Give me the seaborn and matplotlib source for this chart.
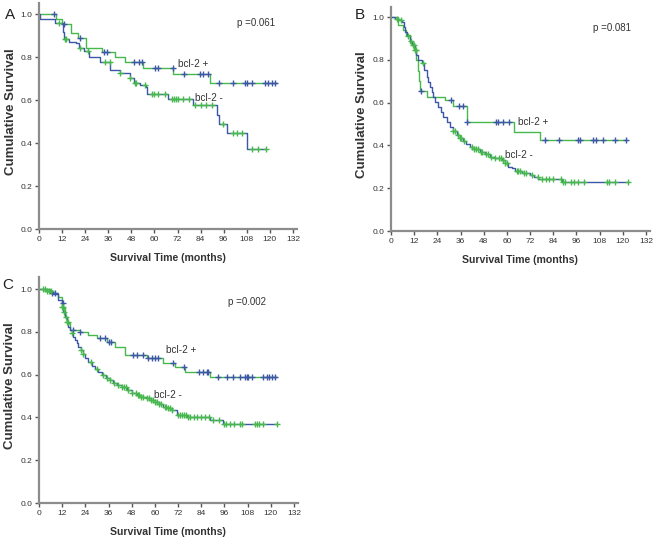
import numpy as np
import matplotlib
matplotlib.use("Agg")
import matplotlib.pyplot as plt
import seaborn as sns

# --- panel A ---
A_pos_t = [0, 9, 12, 16.6, 20.4, 24.4, 33, 39.5, 44.7, 53.9, 69.8, 88.9, 123.5]
A_pos_s = [1.0, 0.98, 0.957, 0.915, 0.89, 0.845, 0.825, 0.80, 0.778, 0.75, 0.72, 0.68, 0.68]
A_pos_cens = [7.7, 12.9, 21.3, 34, 35.2, 49.6, 51.8, 53.7, 60.3, 62, 69.6, 75.4, 83.7, 85.4, 88,
              93.7, 101, 107, 108.3, 110.5, 117.5, 119.2, 121, 122.7]
A_neg_t = [0, 0.5, 8.5, 12.3, 13.2, 15.4, 19.2, 21, 23.5, 26, 31.7, 37, 42, 47.3, 49.5, 52.5,
           55.4, 56, 67.2, 79.9, 92.3, 93.7, 97.5, 108, 118]
A_neg_s = [1.0, 0.977, 0.958, 0.916, 0.885, 0.873, 0.865, 0.845, 0.829, 0.80, 0.78, 0.74, 0.725,
           0.705, 0.68, 0.67, 0.66, 0.627, 0.608, 0.577, 0.53, 0.49, 0.448, 0.372, 0.372]
A_neg_cens = [10.6, 13.5, 13.8, 21.3, 25.6, 34.3, 36.9, 42, 47.3, 49.9, 50.5, 55, 58.6, 59.8, 62,
              65.5, 69, 70, 71, 72.5, 75, 78, 81, 84, 86.6, 89.7, 95.8, 100.7, 102.7, 105.4,
              110.5, 114, 118]

# --- panel B ---
B_pos_t = [0, 3.6, 6.2, 8, 10, 12, 13, 14, 14.5, 15, 18.5, 28, 32.3, 39.2, 63.8, 77.1, 122]
B_pos_s = [1.0, 0.963, 0.94, 0.916, 0.88, 0.85, 0.80, 0.75, 0.70, 0.655, 0.628, 0.612, 0.585,
           0.51, 0.465, 0.425, 0.425]
B_pos_cens = [15.5, 31.2, 35, 37.3, 39.2, 54.2, 55.5, 58.1, 61, 79.7, 87.1, 97, 97.8, 104.7,
              106.1, 110, 116, 121.7]
B_neg_t = [0, 2, 4, 5.5, 6.5, 7.2, 8.5, 9.8, 11, 12.4, 13.2, 14.1, 15.9, 17, 18.5, 19.3, 20.2,
           21, 21.9, 23, 24.5, 25.8, 27.1, 28.8, 30.5, 32, 34, 35.5, 37.4, 39, 40.9, 43, 46,
           48.5, 51.2, 54, 57.3, 59, 60.7, 62.5, 64.2, 68, 72, 74, 76.3, 88.4, 122.9]
B_neg_s = [1.0, 0.993, 0.986, 0.978, 0.955, 0.93, 0.91, 0.89, 0.868, 0.846, 0.822, 0.80, 0.784,
           0.752, 0.72, 0.697, 0.674, 0.651, 0.628, 0.604, 0.58, 0.557, 0.534, 0.51, 0.487,
           0.468, 0.449, 0.436, 0.422, 0.408, 0.394, 0.382, 0.37, 0.358, 0.347, 0.34, 0.332,
           0.316, 0.30, 0.293, 0.282, 0.272, 0.262, 0.252, 0.242, 0.23, 0.23]
B_neg_cens = [3, 5, 9, 10.5, 11.5, 12, 12.6, 13, 16.4, 32, 33, 34.5, 35.5, 36, 38, 42, 43, 44,
              45, 46.5, 47, 49, 50, 52, 54, 56, 57, 58, 59, 60, 65, 66, 67, 69, 70, 73, 76, 78,
              80, 82, 84, 88, 89, 90, 93, 95, 97, 100, 112, 113, 116, 122.5]

# --- panel C ---
C_pos_t = [0, 5.7, 10, 11.7, 12.6, 13.5, 14.3, 16, 21.2, 25.5, 29.9, 35, 39.3, 44.5, 55.7,
           64.4, 70.4, 75.6, 88.5, 123]
C_pos_s = [1.0, 0.98, 0.964, 0.933, 0.91, 0.87, 0.84, 0.81, 0.80, 0.785, 0.77, 0.754, 0.73,
           0.69, 0.676, 0.656, 0.637, 0.614, 0.59, 0.59]
C_pos_cens = [6.9, 8.3, 12.2, 17.8, 21.2, 31.6, 34.3, 36, 37.2, 48.8, 50.5, 54, 56.5, 58.3, 60,
              61.7, 69.5, 75, 83, 84.7, 86.8, 87.6, 92.8, 97.2, 100.3, 104.1, 106.7, 107.6,
              108.4, 110.2, 116.2, 117.9, 119.3, 120.5, 122.3]
C_neg_t = [0, 4, 7, 10, 11.7, 12.6, 13.5, 14.3, 15.2, 16, 16.9, 17.7, 18.6, 19.5, 20.4, 21.5,
           22.6, 24, 25.5, 27.2, 29, 30.7, 32.4, 34.5, 36.7, 38.5, 40.2, 42.8, 45.4, 48, 50.6,
           53, 55.7, 58, 60, 62, 64.3, 66.5, 68.7, 71.3, 76.4, 88.5, 95.1, 123]
C_neg_s = [1.0, 0.99, 0.975, 0.95, 0.917, 0.893, 0.87, 0.847, 0.824, 0.808, 0.793, 0.777, 0.762,
           0.746, 0.73, 0.713, 0.696, 0.678, 0.66, 0.642, 0.625, 0.611, 0.598, 0.586, 0.575,
           0.563, 0.551, 0.54, 0.528, 0.516, 0.505, 0.497, 0.489, 0.481, 0.473, 0.462, 0.45,
           0.442, 0.435, 0.411, 0.403, 0.388, 0.369, 0.369]
C_neg_cens = [2, 3, 4, 5, 6, 12, 12.5, 13, 14, 14.5, 15, 17, 22, 23, 27, 30, 33, 35, 37, 39, 41,
              43, 44, 45, 46, 48, 50, 51, 52, 53, 54, 56, 57, 58, 59, 60, 61, 62, 63, 65, 66, 67,
              68, 69, 72, 73, 74, 75, 76, 77, 78, 80, 82, 84, 86, 88, 90, 93, 96, 97, 99, 101,
              104, 105, 112, 113, 114, 116, 123]

p_values = ["p =0.061", "p =0.081", "p =0.002"]
x_ticks = list(range(0, 133, 12))
y_ticks = [0.0, 0.2, 0.4, 0.6, 0.8, 1.0]

GREEN = "#46b84c"
BLUE = "#3d56a6"
AXC = "#8c8c8c"

sns.set_style("white")
plt.rcParams["font.family"] = ["Liberation Sans", "DejaVu Sans"]


def surv_at(times, surv, t):
    idx = np.searchsorted(np.asarray(times), np.asarray(t), side="right") - 1
    return np.asarray(surv)[idx]


def km_panel(ax, pos, neg, ptxt, pos_lab, neg_lab, ytop):
    # bcl-2 + : green line, blue censor marks ; bcl-2 - : blue line, green censor marks
    for (t, s, c), lc, mc in [(pos, GREEN, BLUE), (neg, BLUE, GREEN)]:
        sns.lineplot(x=t, y=s, ax=ax, color=lc, linewidth=1.0, drawstyle="steps-post",
                     estimator=None, sort=False)
    for (t, s, c), lc, mc in [(pos, GREEN, BLUE), (neg, BLUE, GREEN)]:
        sns.scatterplot(x=c, y=surv_at(t, s, c), ax=ax, marker="+", color=mc, s=18,
                        linewidth=1.0, zorder=3)
    ax.set_xlim(0, 134)
    ax.set_ylim(0, ytop)
    ax.set_xticks(x_ticks)
    ax.set_yticks(y_ticks)
    ax.set_yticklabels([f"{v:.1f}" for v in y_ticks])
    for sp in ["top", "right"]:
        ax.spines[sp].set_visible(False)
    for sp in ["left", "bottom"]:
        ax.spines[sp].set_color(AXC)
        ax.spines[sp].set_linewidth(1.6)
    ax.tick_params(axis="both", direction="out", length=3, width=1, color="#555555",
                   labelsize=6, labelcolor="#333333", pad=2, left=True, bottom=True)
    ax.set_xlabel("Survival Time (months)", fontsize=7.6, fontweight="bold",
                  color="#333333", labelpad=7)
    ax.set_ylabel("Cumulative Survival", fontsize=9.5, fontweight="bold",
                  color="#333333")
    ax.yaxis.set_label_coords(-0.087, 0.52)
    ax.text(ptxt[0], ptxt[1], ptxt[2], fontsize=7, color="#333333", va="center")
    ax.text(pos_lab[0], pos_lab[1], "bcl-2 +", fontsize=7.2, color="#333333", va="center")
    ax.text(neg_lab[0], neg_lab[1], "bcl-2 -", fontsize=7.2, color="#333333", va="center")


fig = plt.figure(figsize=(6.62, 5.41), dpi=100)
axA = fig.add_axes([0.0589, 0.5767, 0.3894, 0.4177])
axB = fig.add_axes([0.5906, 0.573, 0.391, 0.414])
axC = fig.add_axes([0.0589, 0.0702, 0.391, 0.418])

km_panel(axA, (A_pos_t, A_pos_s, A_pos_cens), (A_neg_t, A_neg_s, A_neg_cens),
         (103, 0.958, p_values[0]), (72, 0.77), (81, 0.61), 1.053)
km_panel(axB, (B_pos_t, B_pos_s, B_pos_cens), (B_neg_t, B_neg_s, B_neg_cens),
         (104.5, 0.949, p_values[1]), (66, 0.51), (59, 0.355), 1.047)
km_panel(axC, (C_pos_t, C_pos_s, C_pos_cens), (C_neg_t, C_neg_s, C_neg_cens),
         (97.8, 0.94, p_values[2]), (66, 0.715), (59.5, 0.505), 1.057)

fig.text(10 / 662, 1 - 15 / 541, "A", fontsize=11, ha="center", va="center", color="#222222")
fig.text(360 / 662, 1 - 15 / 541, "B", fontsize=11, ha="center", va="center", color="#222222")
fig.text(8 / 662, 1 - 285 / 541, "C", fontsize=11, ha="center", va="center", color="#222222")

fig.savefig("out.png", dpi=100)
